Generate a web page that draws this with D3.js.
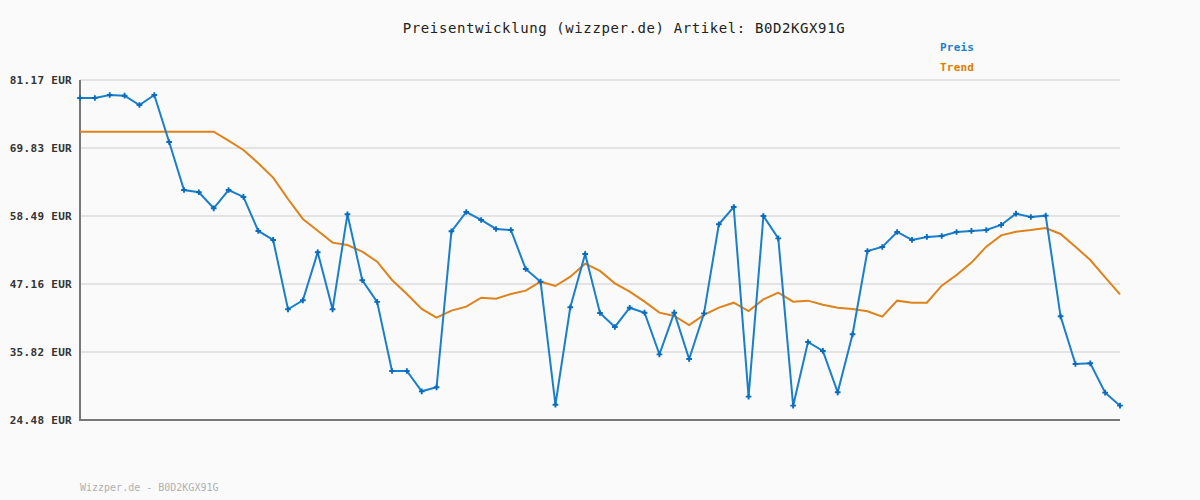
<!DOCTYPE html>
<html>
<head>
<meta charset="utf-8">
<script src="https://cdn.jsdelivr.net/npm/d3@7"></script>
<style>
  html, body { margin: 0; padding: 0; background: #fafafa; }
  svg { display: block; font-family: "DejaVu Sans Mono", "Liberation Mono", monospace; }
</style>
</head>
<body>
<div id="chart"></div>
<script>
const title = "Preisentwicklung (wizzper.de) Artikel: B0D2KGX91G";
const footer = "Wizzper.de - B0D2KGX91G";
const yTicks = [24.48, 35.82, 47.16, 58.49, 69.83, 81.17];

const preis = [
  78.17, 78.17, 78.67, 78.55, 77.0, 78.67, 70.83, 62.83, 62.45, 59.78,
  62.83, 61.67, 56.0, 54.5, 42.94, 44.44, 52.44, 42.94, 58.78, 47.78,
  44.17, 32.65, 32.65, 29.26, 29.93, 55.94, 59.16, 57.83, 56.33, 56.16,
  49.66, 47.54, 27.03, 43.27, 52.16, 42.32, 39.99, 43.2, 42.37, 35.43,
  42.37, 34.65, 42.26, 57.11, 59.99, 28.37, 58.49, 54.77, 26.87, 37.49,
  35.99, 29.1, 38.77, 52.66, 53.33, 55.83, 54.5, 55.0, 55.16, 55.83,
  56.0, 56.16, 57.0, 58.88, 58.33, 58.55, 41.77, 33.82, 33.93, 29.04,
  26.87
];

const trend = [
  72.55, 72.55, 72.55, 72.55, 72.55, 72.55, 72.55, 72.55, 72.55, 72.55,
  71.05, 69.5, 67.3, 64.9, 61.33, 58.0, 56.04, 54.05, 53.66, 52.55,
  50.88, 47.83, 45.5, 43.0, 41.54, 42.72, 43.38, 44.88, 44.71, 45.5,
  46.05, 47.54, 46.82, 48.38, 50.55, 49.33, 47.27, 45.88, 44.21, 42.38,
  41.82, 40.32, 42.0, 43.21, 44.04, 42.65, 44.6, 45.71, 44.21, 44.38,
  43.71, 43.21, 43.0, 42.6, 41.71, 44.38, 44.04, 44.04, 46.88, 48.66,
  50.72, 53.38, 55.27, 55.88, 56.16, 56.5, 55.5, 53.38, 51.16, 48.27,
  45.44
];

const width = 1200, height = 500;
const margin = { top: 80, right: 80, bottom: 80, left: 80 };
const blue = "#1a7fca", orange = "#e0821a";

const svg = d3.select("#chart").append("svg")
  .attr("width", width)
  .attr("height", height);

svg.append("rect").attr("width", width).attr("height", height).attr("fill", "#fafafa");

const x = d3.scaleLinear()
  .domain([0, preis.length - 1])
  .range([margin.left, width - margin.right]);

const y = d3.scaleLinear()
  .domain([yTicks[0], yTicks[yTicks.length - 1]])
  .range([height - margin.bottom, margin.top]);

// grid
svg.append("g")
  .selectAll("line")
  .data(yTicks)
  .join("line")
    .attr("x1", margin.left)
    .attr("x2", width - margin.right)
    .attr("y1", d => y(d))
    .attr("y2", d => y(d))
    .attr("stroke", "#e4e4e4")
    .attr("stroke-width", 2);

// y axis
svg.append("g")
  .attr("transform", `translate(${margin.left},0)`)
  .call(d3.axisLeft(y).tickValues(yTicks).tickSize(0).tickPadding(8)
    .tickFormat(d => d.toFixed(2) + " EUR"))
  .call(g => g.select(".domain").remove())
  .call(g => g.selectAll("text")
    .attr("font-family", "'DejaVu Sans Mono', monospace")
    .attr("font-size", 11)
    .attr("font-weight", "bold")
    .attr("letter-spacing", 0.3)
    .attr("fill", "#333"));

// axis lines
svg.append("path")
  .attr("d", `M${margin.left},${margin.top}V${height - margin.bottom}H${width - margin.right}`)
  .attr("fill", "none")
  .attr("stroke", "#777")
  .attr("stroke-width", 2);

const line = d3.line()
  .x((d, i) => x(i))
  .y(d => y(d));

svg.append("path")
  .datum(trend)
  .attr("fill", "none")
  .attr("stroke", orange)
  .attr("stroke-width", 2)
  .attr("d", line);

svg.append("path")
  .datum(preis)
  .attr("fill", "none")
  .attr("stroke", blue)
  .attr("stroke-width", 2)
  .attr("d", line);

svg.append("g")
  .selectAll("path")
  .data(preis)
  .join("path")
    .attr("transform", (d, i) => `translate(${x(i)},${y(d)})`)
    .attr("d", d3.symbol(d3.symbolCross, 18))
    .attr("fill", "#0b6cbd");

// title
svg.append("text")
  .attr("x", 624)
  .attr("y", 33)
  .attr("text-anchor", "middle")
  .attr("font-size", 14)
  .attr("letter-spacing", 0.6)
  .attr("fill", "#222")
  .text(title);

// legend
const legend = [{ name: "Preis", color: "#1a7fca" }, { name: "Trend", color: "#e07b00" }];
svg.append("g")
  .selectAll("text")
  .data(legend)
  .join("text")
    .attr("x", 940)
    .attr("y", (d, i) => 51 + i * 20)
    .attr("font-size", 11)
    .attr("font-weight", "bold")
    .attr("letter-spacing", 0.2)
    .attr("fill", d => d.color)
    .text(d => d.name);

// footer
svg.append("text")
  .attr("x", 80)
  .attr("y", 491)
  .attr("font-size", 10)
  .attr("fill", "#b0b0b0")
  .text(footer);
</script>
</body>
</html>
